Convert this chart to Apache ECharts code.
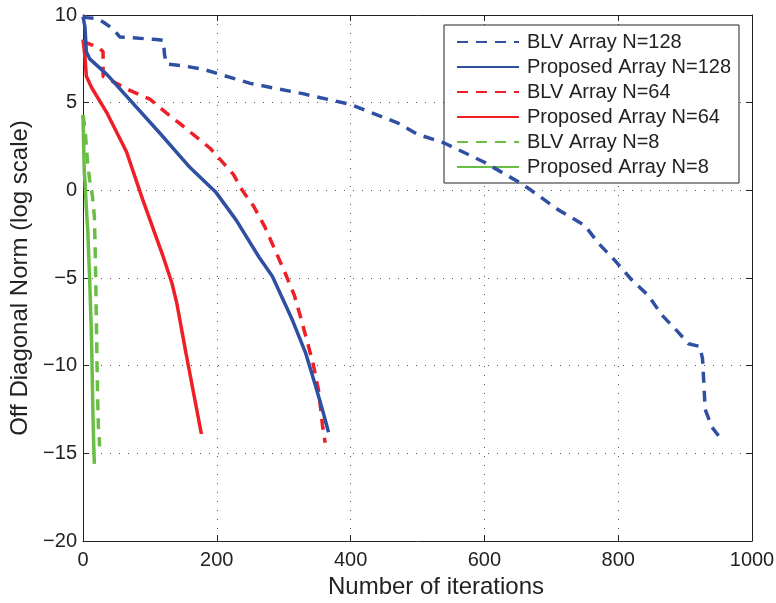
<!DOCTYPE html>
<html>
<head>
<meta charset="utf-8">
<script src="https://cdn.jsdelivr.net/npm/echarts@6/dist/echarts.min.js"></script>
<style>
  html, body { margin: 0; padding: 0; background: #fff; }
  #chart { width: 776px; height: 603px; }
</style>
</head>
<body>
<div id="chart"></div>
<script>
// values: [iterations, off diagonal norm (log)]
var blv128 = [[0, 9.95], [5, 9.85], [20, 9.8], [30, 9.6], [45, 9.2], [55, 8.75], [110, 8.6], [120, 8.55],
  [122, 7.7], [125, 7.2], [150, 7.1], [180, 6.9], [250, 6.1], [330, 5.5], [400, 4.9], [470, 3.85],
  [500, 3.2], [540, 2.7], [600, 1.6], [650, 0.5], [670, 0], [710, -1.1], [750, -2.0], [770, -3.0],
  [795, -4.0], [820, -5.1], [845, -6.0], [865, -7.1], [890, -8.1], [905, -8.75], [922, -8.9],
  [926, -9.6], [928, -11], [930, -12.5], [940, -13.5], [950, -14]];
var prop128 = [[0, 9.9], [3, 9.3], [5, 7.9], [10, 7.5], [36, 6.6], [114, 3.3], [160, 1.3], [199, -0.13],
  [229, -1.7], [263, -3.8], [283, -4.9], [313, -7.4], [333, -9.3], [348, -11.2], [360, -12.8], [367, -13.8]];
var blv64 = [[0, 8.5], [13, 8.3], [25, 8.1], [30, 7.9], [30, 6.5], [45, 6.2], [70, 5.7], [100, 5.2],
  [125, 4.4], [145, 3.8], [190, 2.4], [225, 0.9], [238, 0], [255, -0.9], [272, -2.1], [287, -3.4],
  [302, -4.7], [316, -6], [325, -7.2], [335, -8.6], [344, -9.9], [352, -11.4], [356, -12.7],
  [358, -13.4], [362, -14.4]];
var prop64 = [[0, 8.6], [3, 7.6], [5, 6.5], [13, 5.85], [36, 4.4], [65, 2.2], [89, -0.5], [104, -2.1],
  [120, -3.8], [133, -5.3], [140, -6.4], [154, -9.3], [169, -12.3], [177, -13.9]];
var blv8 = [[0, 4.3], [3, 3.5], [5, 2.5], [7, 1.5], [10, 0.6], [14, -0.3], [17, -1.5], [18, -3],
  [19, -5], [20, -7.5], [21, -10], [22, -12], [23, -13.5], [25, -14.6]];
var prop8 = [[0, 4.3], [1, 2.5], [2, 1], [3, 0.5], [5, -1], [7, -2.2], [10, -5.1], [12, -7.5],
  [13, -8.9], [14, -11], [15, -13], [16, -14.5], [17, -15.6]];

var seriesNames = ['BLV Array N=128', 'Proposed Array N=128', 'BLV Array N=64',
  'Proposed Array N=64', 'BLV Array N=8', 'Proposed Array N=8'];
var seriesData = [blv128, prop128, blv64, prop64, blv8, prop8];
var colors = ['#2f4fa2', '#2f4fa2', '#ee1f26', '#ee1f26', '#6abd45', '#6abd45'];
var dashed = [true, false, true, false, true, false];

var font = 'Liberation Sans, Arial, Helvetica, sans-serif';

function frameAxis(pos) {
  var isX = pos === 'top';
  return {
    type: 'value',
    position: pos,
    min: isX ? 0 : -20,
    max: isX ? 1000 : 10,
    interval: isX ? 200 : 5,
    axisLine: { show: true, onZero: false, lineStyle: { color: '#222', width: 1 } },
    axisTick: { show: true, inside: true, length: 6, lineStyle: { color: '#222' } },
    axisLabel: { show: false },
    splitLine: { show: false }
  };
}

var chart = echarts.init(document.getElementById('chart'));
chart.setOption({
  animation: false,
  backgroundColor: '#fff',
  grid: { left: 83, right: 24, top: 15, bottom: 62, containLabel: false, outerBoundsMode: 'none' },
  legend: {
    orient: 'vertical',
    left: 444,
    top: 25,
    data: seriesNames,
    itemWidth: 62,
    itemHeight: 14,
    itemGap: 5,
    padding: [7, 8, 6, 12],
    backgroundColor: '#fff',
    borderColor: '#222',
    borderWidth: 1,
    borderRadius: 0,
    itemStyle: { opacity: 0 },
    textStyle: { fontFamily: font, fontSize: 20, color: '#222', padding: [0, 0, 0, 3] }
  },
  xAxis: [{
    type: 'value',
    min: 0,
    max: 1000,
    interval: 200,
    name: 'Number of iterations',
    nameLocation: 'middle',
    nameGap: 34,
    nameTextStyle: { fontFamily: font, fontSize: 24, color: '#222', padding: [0, 0, 0, 37] },
    axisLine: { show: true, onZero: false, lineStyle: { color: '#222', width: 1 } },
    axisTick: { show: true, inside: true, length: 6, lineStyle: { color: '#222' } },
    axisLabel: {
      fontFamily: font, fontSize: 20, color: '#222', margin: 9,
      formatter: function (v) { return String(v); }
    },
    splitLine: { show: true, lineStyle: { color: '#555', width: 1, type: [1, 8] } }
  }, frameAxis('top')],
  yAxis: [{
    type: 'value',
    min: -20,
    max: 10,
    interval: 5,
    name: 'Off Diagonal Norm (log scale)',
    nameLocation: 'middle',
    nameGap: 49,
    nameTextStyle: { fontFamily: font, fontSize: 24, color: '#222' },
    axisLine: { show: true, onZero: false, lineStyle: { color: '#222', width: 1 } },
    axisTick: { show: true, inside: true, length: 6, lineStyle: { color: '#222' } },
    axisLabel: {
      fontFamily: font, fontSize: 20, color: '#222', margin: 6,
      formatter: function (v) { return v < 0 ? '\u2212' + Math.abs(v) : String(v); }
    },
    splitLine: { show: true, lineStyle: { color: '#555', width: 1, type: [1, 8] } }
  }, frameAxis('right')],
  series: seriesData.map(function (d, i) {
    return {
      name: seriesNames[i],
      type: 'line',
      data: d,
      symbol: 'none',
      showSymbol: false,
      itemStyle: { color: colors[i] },
      lineStyle: { color: colors[i], width: 3.5, type: dashed[i] ? [11, 8] : 'solid' },
      z: 2 + (5 - i)
    };
  })
});
</script>
</body>
</html>
